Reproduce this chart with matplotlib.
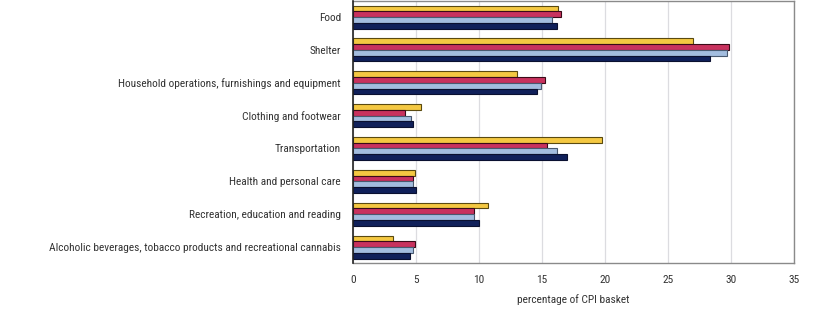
import matplotlib
matplotlib.use("Agg")
import matplotlib.pyplot as plt
import numpy as np

# CPI basket components, top to bottom
categories = [
    "Food",
    "Shelter",
    "Household operations, furnishings and equipment",
    "Clothing and footwear",
    "Transportation",
    "Health and personal care",
    "Recreation, education and reading",
    "Alcoholic beverages, tobacco products and recreational cannabis",
]

# basket weights (percent), one list per series, drawn top to bottom in each group
series_yellow = [16.3, 27.0, 13.0, 5.4, 19.8, 4.9, 10.7, 3.2]
series_red = [16.5, 29.8, 15.2, 4.1, 15.4, 4.8, 9.6, 4.9]
series_lightblue = [15.8, 29.7, 14.9, 4.6, 16.2, 4.8, 9.6, 4.8]
series_navy = [16.2, 28.3, 14.6, 4.8, 17.0, 5.0, 10.0, 4.5]

x_ticks = [0, 5, 10, 15, 20, 25, 30, 35]
x_label = "percentage of CPI basket"

plt.rcParams["font.family"] = ["Roboto Condensed", "DejaVu Sans"]

fig = plt.figure(figsize=(8.28, 3.14), dpi=100)
ax = fig.add_axes([0.4263, 0.161, 0.5327, 0.837])

all_series = [series_yellow, series_red, series_lightblue, series_navy]
colors = ["#F4C842", "#C8325E", "#A3BDDF", "#10205A"]
edges = ["#5a4a10", "#3a0a18", "#4a5a70", "#0a1030"]

y = np.arange(len(categories))
bar_h = 0.175
offsets = (np.arange(4) - 1.5) * bar_h

for vals, off, c, ec in zip(all_series, offsets, colors, edges):
    ax.barh(y + off, vals, height=bar_h, color=c, edgecolor=ec, linewidth=0.8, zorder=3)

ax.set_ylim(len(categories) - 0.5, -0.5)
ax.set_xlim(0, 35)
ax.set_xticks(x_ticks)
ax.set_yticks(y)
ax.set_yticklabels(categories)
ax.grid(axis="x", color="#dcdce0", linewidth=0.9, zorder=0)

ax.tick_params(axis="both", length=0, labelsize=8.2, colors="#333333")
ax.tick_params(axis="y", pad=8.6)
ax.tick_params(axis="x", pad=8)

for s in ["top", "right", "bottom"]:
    ax.spines[s].set_color("#8a8a8a")
    ax.spines[s].set_linewidth(1.0)
ax.spines["left"].set_color("#222222")
ax.spines["left"].set_linewidth(1.2)
ax.spines["left"].set_zorder(4)

ax.set_xlabel(x_label, fontsize=8.2, color="#333333", labelpad=7)

fig.savefig("out.png", dpi=100)
